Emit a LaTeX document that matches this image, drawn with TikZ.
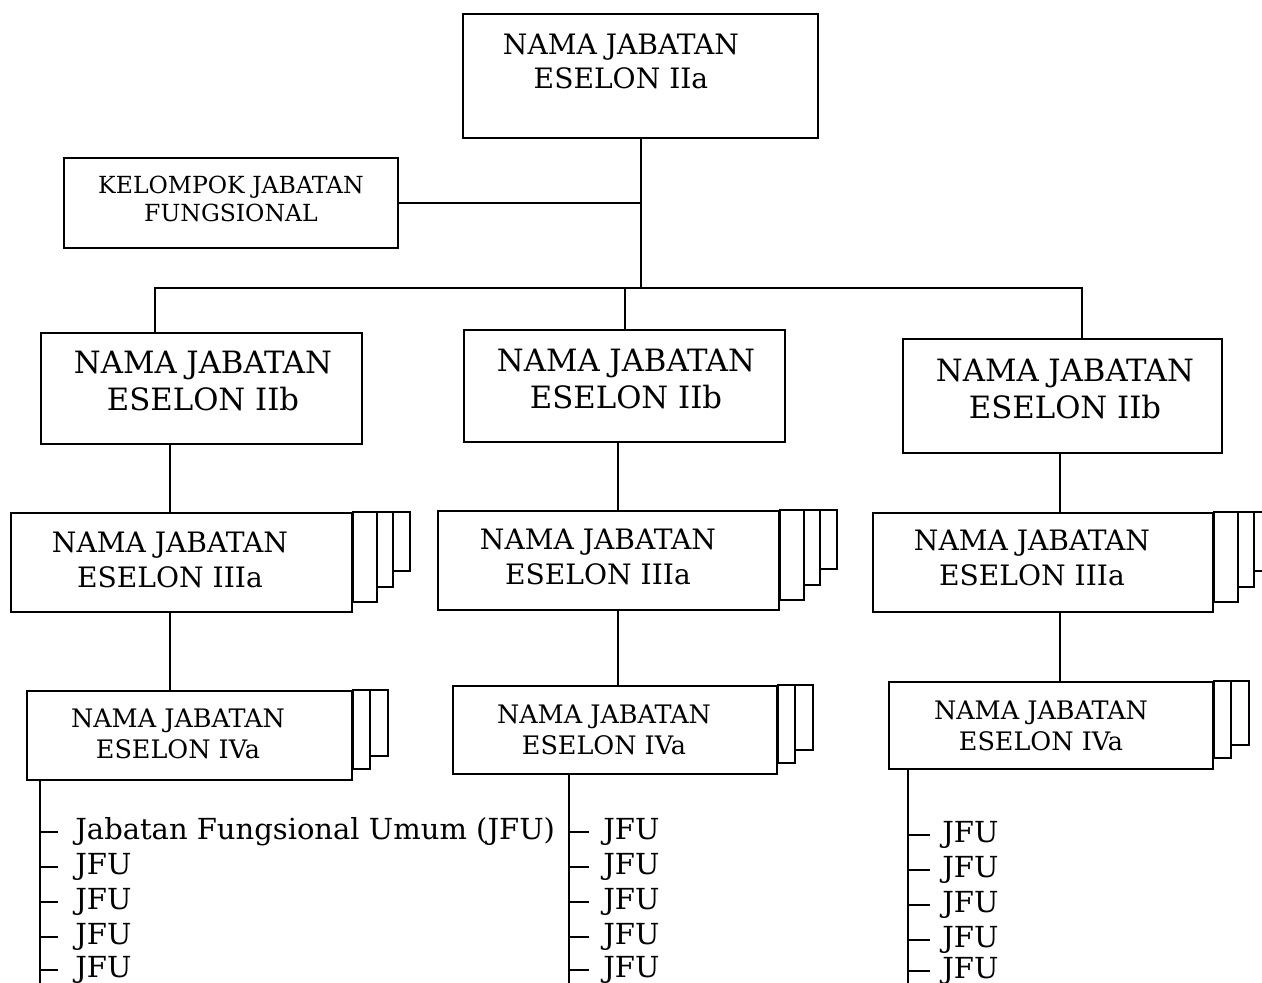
\documentclass[tikz,border=0pt]{standalone}
\usepackage{fontspec}
\setmainfont{DejaVu Serif}
\usetikzlibrary{positioning, calc, backgrounds, fit}

\tikzset{
  box/.style={draw, line width=1.4pt, inner sep=0pt},
  sheet/.style={draw, line width=1.4pt, fill=white},
  link/.style={line width=1.1pt},
  txtA/.style={align=center, font=\fontsize{16}{19.3}\selectfont},
  txtB/.style={align=center, font=\fontsize{17.5}{21.5}\selectfont},
  txtC/.style={align=center, font=\fontsize{16}{19.8}\selectfont},
  txtD/.style={align=center, font=\fontsize{14.5}{18}\selectfont},
  txtK/.style={align=center, font=\fontsize{13.4}{16}\selectfont},
  item/.style={anchor=west, inner sep=0pt, text height=8pt, text depth=0pt,
    font=\fontsize{16.5}{18}\selectfont}
}

\begin{document}
\begin{tikzpicture}[x=0.02cm, y=-0.02cm]
    \useasboundingbox (0,0) rectangle (1262,983);
    \clip (0,0) rectangle (1262,983);
    % Eselon IIa
    \node[box, fit={(463,14) (818,138)}] (ia) {};
    \node[txtA] (ia-t) at (621,61) {NAMA JABATAN\\ESELON IIa};
    % Kelompok jabatan fungsional
    \node[box, fit={(64,158) (398,248)}] (kel) {};
    \node[txtK] (kel-t) at (231,199) {KELOMPOK JABATAN\\FUNGSIONAL};
    % Eselon IIb
    \node[box, fit={(41,333) (362,444)}] (l2) {};
    \node[box, fit={(464,330) (785,442)}] (m2) {};
    \node[box, fit={(903,339) (1222,453)}] (r2) {};
    \node[txtB] (l2-t) at (203,381) {NAMA JABATAN\\ESELON IIb};
    \node[txtB] (m2-t) at (626,379) {NAMA JABATAN\\ESELON IIb};
    \node[txtB] (r2-t) at (1065,389) {NAMA JABATAN\\ESELON IIb};
    % Eselon IIIa
    \node[box, fit={(11,513) (352,612)}] (l3) {};
    \node[box, fit={(438,511) (779,610)}] (m3) {};
    \node[box, fit={(873,513) (1213,612)}] (r3) {};
    \node[txtC] (l3-t) at (170,560) {NAMA JABATAN\\ESELON IIIa};
    \node[txtC] (m3-t) at (598,557) {NAMA JABATAN\\ESELON IIIa};
    \node[txtC] (r3-t) at (1032,558) {NAMA JABATAN\\ESELON IIIa};
    % Eselon IVa
    \node[box, fit={(27,691) (352,780)}] (l4) {};
    \node[box, fit={(453,686) (777,774)}] (m4) {};
    \node[box, fit={(889,682) (1213,769)}] (r4) {};
    \node[txtD] (l4-t) at (178,734) {NAMA JABATAN\\ESELON IVa};
    \node[txtD] (m4-t) at (604,730) {NAMA JABATAN\\ESELON IVa};
    \node[txtD] (r4-t) at (1041,726) {NAMA JABATAN\\ESELON IVa};
    % Sheets behind
    \begin{scope}[on background layer]
      \foreach \bx in {l3, m3, r3}
        \foreach \dx/\dy in {57/42, 40/26, 24/11}
          \draw[sheet] (\bx.north east) rectangle ($(\bx.south east)+(\dx,-\dy)$);
      \foreach \bx in {l4, m4, r4}
        \foreach \dx/\dy in {35/25, 17/12}
          \draw[sheet] (\bx.north east) rectangle ($(\bx.south east)+(\dx,-\dy)$);
    \end{scope}
    % Connectors
    \coordinate (bus) at (641,288);
    \coordinate (bus-l) at (155,288);
    \coordinate (bus-m) at (625,288);
    \coordinate (bus-r) at (1082,288);
    \draw[link] (ia.south -| bus) -- (bus);
    \draw[link] (kel.east) -- (kel.east -| bus);
    \draw[link] (l2.north -| bus-l) -- (bus-l) -- (bus-r) -- (r2.north -| bus-r);
    \draw[link] (bus-m) -- (m2.north -| bus-m);
    \draw[link] (l2.south -| l3-t) -- (l3.north -| l3-t);
    \draw[link] (m2.south -| 618,0) -- (m3.north -| 618,0);
    \draw[link] (r2.south -| 1060,0) -- (r3.north -| 1060,0);
    \draw[link] (l3.south -| l3-t) -- (l4.north -| l3-t);
    \draw[link] (m3.south -| 618,0) -- (m4.north -| 618,0);
    \draw[link] (r3.south -| 1060,0) -- (r4.north -| 1060,0);
    % Fungsional umum
    \coordinate (l-end) at (40,990);
    \coordinate (m-end) at (569,990);
    \coordinate (r-end) at (908,990);
    \draw[link] (l4.south -| l-end) -- (l-end);
    \draw[link] (m4.south -| m-end) -- (m-end);
    \draw[link] (r4.south -| r-end) -- (r-end);
    \foreach \y [count=\i] in {832, 867, 902, 937, 970} {
      \draw[link] (40,\y) -- ++(18,0);
      \draw[link] (569,\y) -- ++(20,0);
      \node[item] (m-\i) at (603,\y) {JFU};
    }
    \node[item] (l-1) at (75,832) {Jabatan Fungsional Umum (JFU)};
    \foreach \y [count=\i from 2] in {867, 902, 937, 970}
      \node[item] (l-\i) at (75,\y) {JFU};
    \foreach \y [count=\i] in {835, 870, 905, 940, 971} {
      \draw[link] (908,\y) -- ++(22,0);
      \node[item] (r-\i) at (942,\y) {JFU};
    }
\end{tikzpicture}
\end{document}
